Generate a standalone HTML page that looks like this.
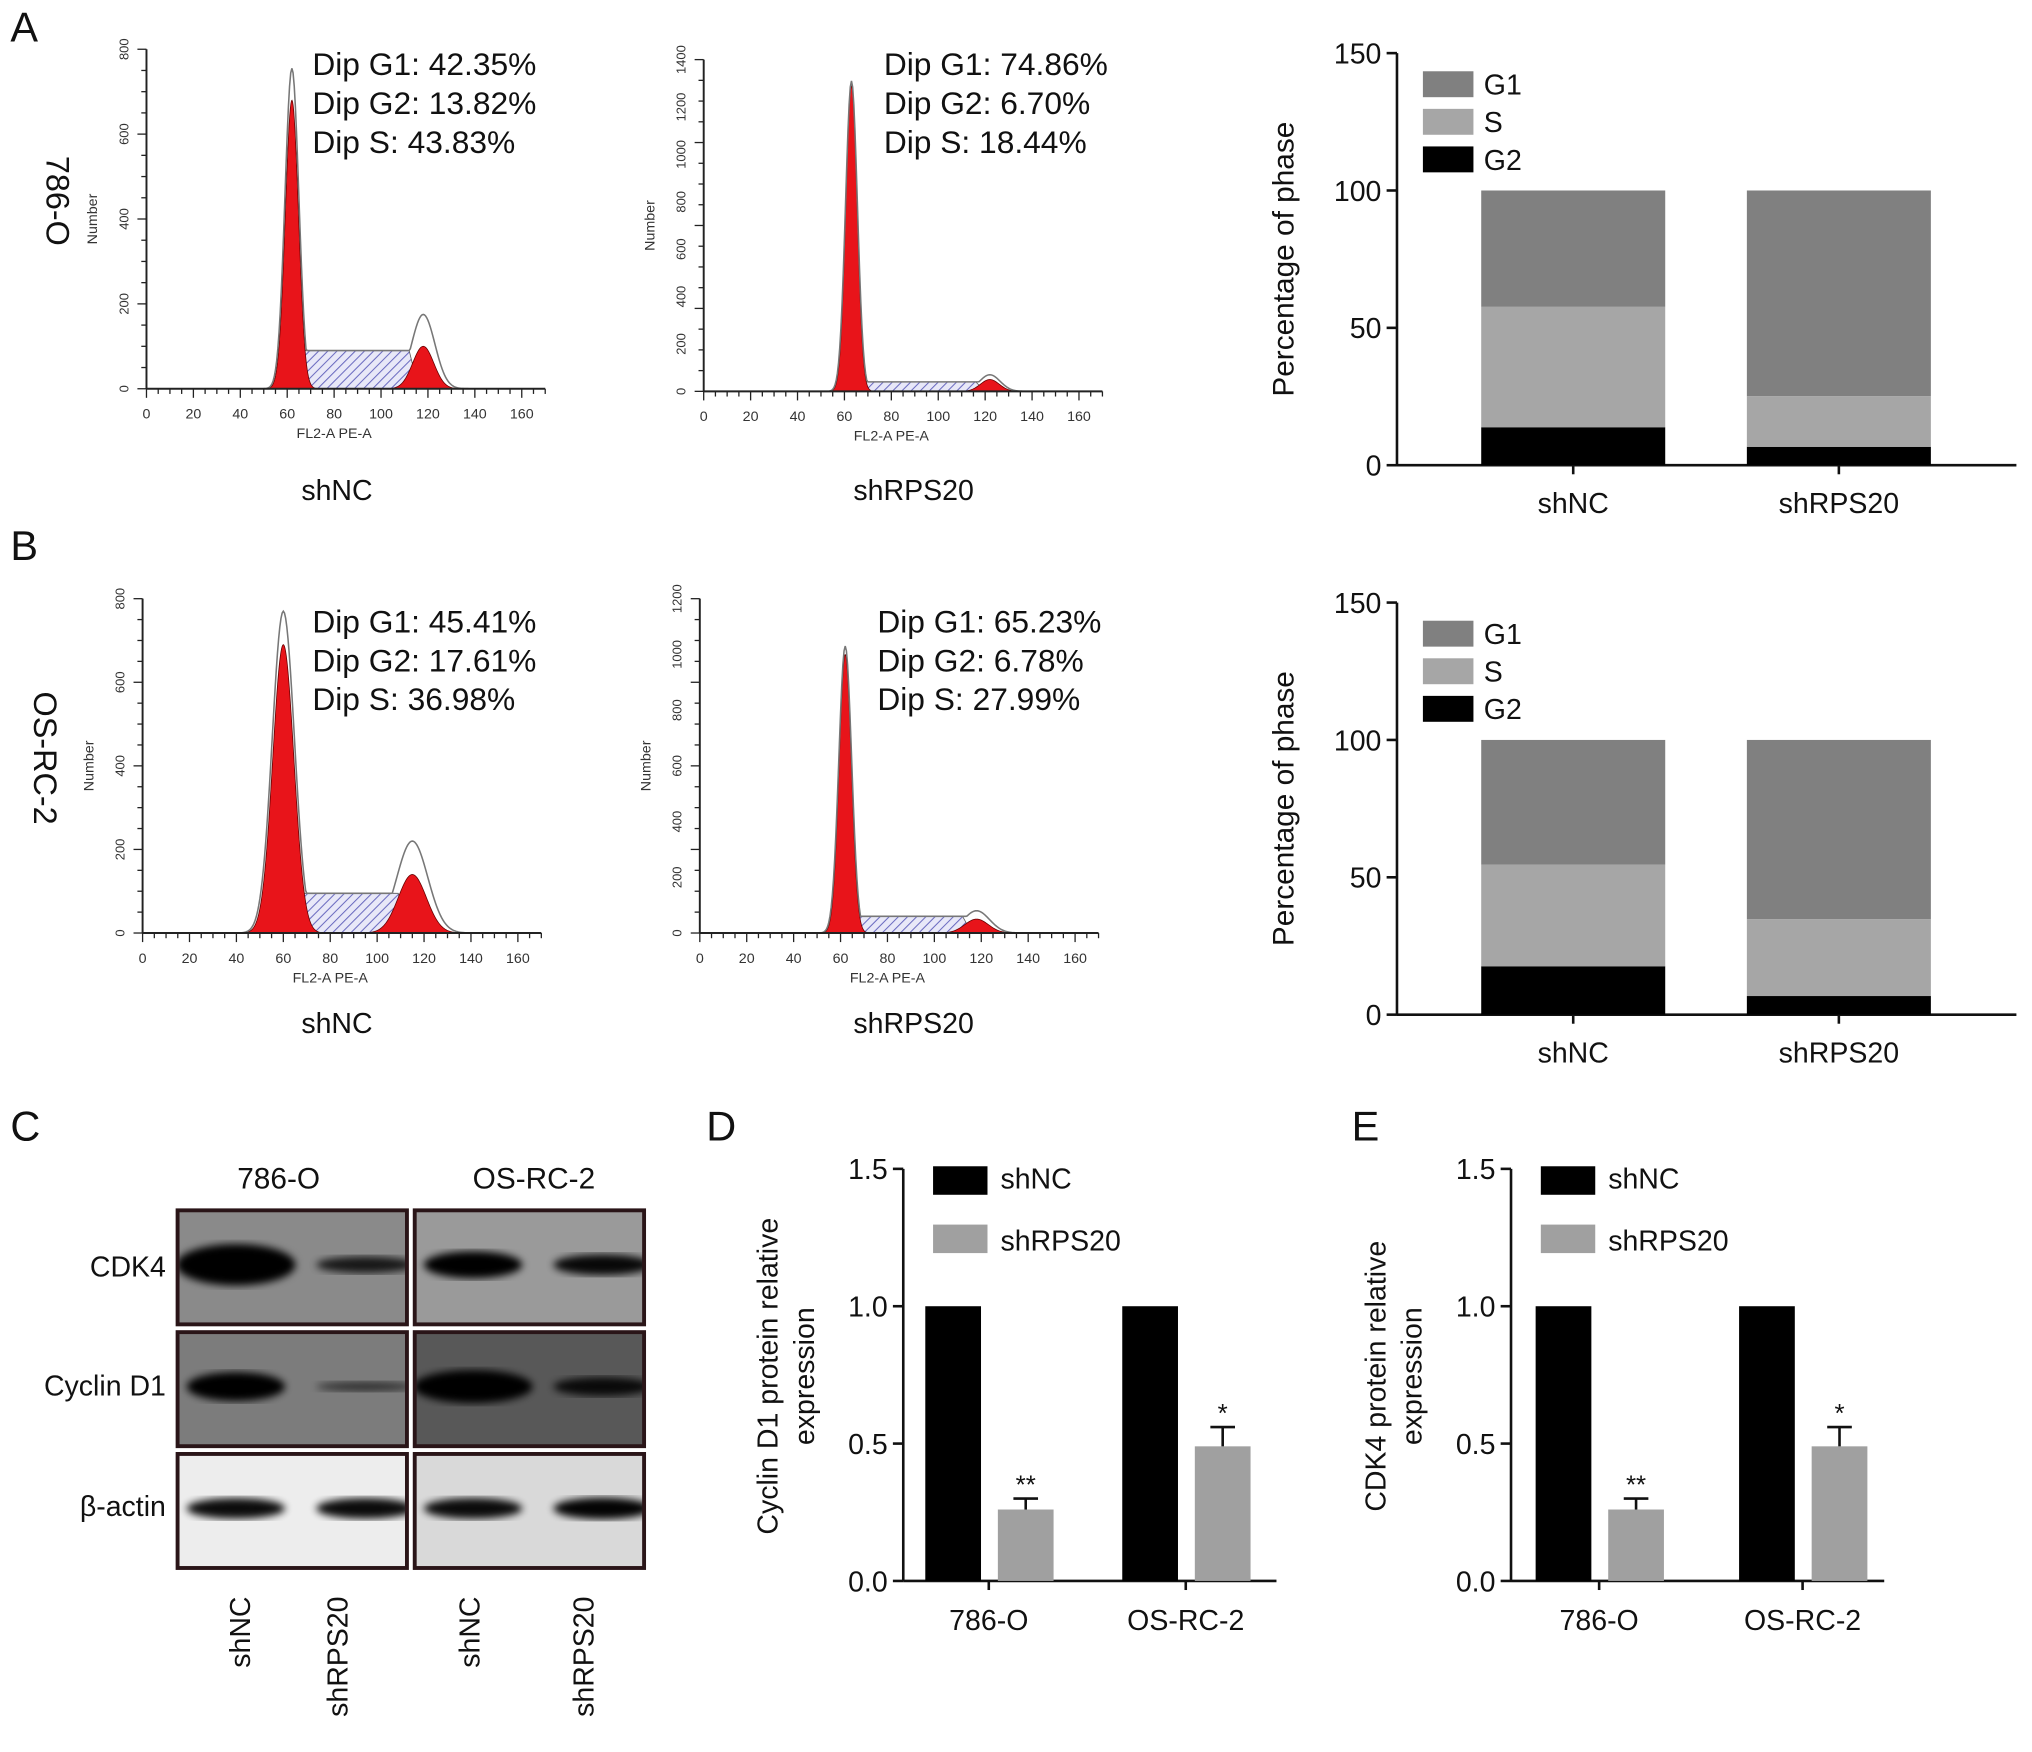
<!DOCTYPE html>
<html><head><meta charset="utf-8">
<style>html,body{margin:0;padding:0;background:#fff}svg{display:block}text{font-family:"Liberation Sans",sans-serif}</style>
</head><body>
<svg id="fig" xmlns="http://www.w3.org/2000/svg" width="2032" height="1752" viewBox="0 0 1568 1352">
<defs>
<pattern id="hatch" patternUnits="userSpaceOnUse" width="5" height="5" patternTransform="rotate(45)">
<rect width="5" height="5" fill="#e8e8f8"/><line x1="0" y1="0" x2="0" y2="5" stroke="#6b6bc0" stroke-width="1.6"/></pattern>
<filter id="blur"><feGaussianBlur stdDeviation="3"/></filter>
</defs>
<g id="root"></g>
</svg>
<script>
// ---------- DATA ----------
const histPanels = ["A-shNC","A-shRPS20","B-shNC","B-shRPS20"];
const histYMax = [800,1400,800,1200];
const g1Center = [62,63,60,62];
const g1Height = [680,1290,690,1000];
const g1Sigma = [2.8,2.4,4.5,2.6];
const g2Center = [118,122,115,118];
const g2Height = [100,50,140,50];
const g2Sigma = [4.5,4,6,5];
const sLevel = [90,40,95,60];
const outlineExtra = [75,20,80,30];
const dipG1 = ["42.35%","74.86%","45.41%","65.23%"];
const dipG2 = ["13.82%","6.70%","17.61%","6.78%"];
const dipS = ["43.83%","18.44%","36.98%","27.99%"];
const stackCats = ["shNC","shRPS20"];
const stackG2A = [13.82,6.70], stackSA=[43.83,18.44], stackG1A=[42.35,74.86];
const stackG2B = [17.61,6.78], stackSB=[36.98,27.99], stackG1B=[45.41,65.23];
const stackTicks = [0,50,100,150];
const barGroups = ["786-O","OS-RC-2"];
const cycNC = [1.0,1.0], cycSh=[0.26,0.49], cycErr=[0.04,0.07], cycStar=["**","*"];
const cdkNC = [1.0,1.0], cdkSh=[0.26,0.49], cdkErr=[0.04,0.07], cdkStar=["**","*"];
const barTicks = [0,0.5,1.0,1.5];
// ---------- HELPERS ----------
const NS="http://www.w3.org/2000/svg";const root=document.getElementById('root');
function el(t,a,p){const e=document.createElementNS(NS,t);for(const k in a)e.setAttribute(k,a[k]);(p||root).appendChild(e);return e;}
function txt(s,x,y,sz,a,p){const e=el('text',Object.assign({x:x,y:y,'font-size':sz,fill:'#111'},a||{}),p);e.textContent=s;return e;}
function gauss(x,c,h,s){return h*Math.exp(-0.5*((x-c)/s)**2);}
// ---------- HISTOGRAMS ----------
const hx=[113,543,110,540], hy0=[300,302,720,720], hyT=[38,46,462,462];
histPanels.forEach((nm,i)=>{
 const g=el('g',{});
 
 
 const X=v=>hx[i]+v*1.81, Y=v=>hy0[i]-(v/histYMax[i])*(hy0[i]-hyT[i]);
 let sp='M'+X(g1Center[i]+3)+','+Y(0);
 for(let v=g1Center[i]+3;v<=g2Center[i]-3;v+=1){let s=sLevel[i]*Math.min(1,(v-g1Center[i]-2)/3)*Math.min(1,(g2Center[i]-2-v)/4);sp+=' L'+X(v)+','+Y(Math.max(0,s));}
 sp+=' L'+X(g2Center[i]-3)+','+Y(0)+'Z';
 el('path',{d:sp,fill:'url(#hatch)',stroke:'#555','stroke-width':0.6},g);
 [[g1Center,g1Height,g1Sigma],[g2Center,g2Height,g2Sigma]].forEach(([c,h,s])=>{
  let d='M'+X(c[i]-4*s[i])+','+Y(0);
  for(let v=c[i]-4*s[i];v<=c[i]+4*s[i];v+=0.25)d+=' L'+X(v)+','+Y(gauss(v,c[i],h[i],s[i]));
  d+='Z';el('path',{d:d,fill:'#e8141a',stroke:'#600','stroke-width':0.6},g);
 });
 let od='';
 for(let v=40;v<=140;v+=0.5){let y=gauss(v,g1Center[i],g1Height[i]+outlineExtra[i],g1Sigma[i]*1.05)+gauss(v,g2Center[i],g2Height[i]+outlineExtra[i],g2Sigma[i]*1.1);
  if(v>g1Center[i]+2&&v<g2Center[i]-2)y=Math.max(y,sLevel[i]);od+=(od?' L':'M')+X(v)+','+Y(y);}
 el('path',{d:od,fill:'none',stroke:'#777','stroke-width':1.2},g);
 el('line',{x1:hx[i],y1:hy0[i],x2:X(170),y2:hy0[i],stroke:'#222','stroke-width':1.5},g);
 el('line',{x1:hx[i],y1:hy0[i],x2:hx[i],y2:hyT[i],stroke:'#222','stroke-width':1.5},g);
 for(let v=0;v<=170;v+=5){el('line',{x1:X(v),y1:hy0[i],x2:X(v),y2:hy0[i]+(v%20==0?7:4),stroke:'#222'},g);}
 for(let v=0;v<=160;v+=20)txt(String(v),X(v),hy0[i]+23,11,{'text-anchor':'middle',fill:'#333'},g);
 const st=histYMax[i]/16;
 for(let k=0;k<=16;k++){el('line',{x1:hx[i]-(k%4==0?7:4),y1:Y(k*st),x2:hx[i],y2:Y(k*st),stroke:'#222'},g);}
 for(let v=0;v<=histYMax[i];v+=200){txt(String(v),hx[i]-14,Y(v),10,{'text-anchor':'middle',fill:'#333',transform:`rotate(-90 ${hx[i]-14} ${Y(v)})`},g);}
 txt('FL2-A PE-A',X(80),hy0[i]+38,11,{'text-anchor':'middle',fill:'#333'},g);
 const ty=(hy0[i]+hyT[i])/2;
 txt('Number',hx[i]-38,ty,11,{'text-anchor':'middle',fill:'#333',transform:`rotate(-90 ${hx[i]-38} ${ty})`},g);
 const tx=[241,682,241,677][i], t0=[58,58,488,488][i];
 txt('Dip G1: '+dipG1[i],tx,t0,24.5,{},g);txt('Dip G2: '+dipG2[i],tx,t0+30,24.5,{},g);txt('Dip S: '+dipS[i],tx,t0+60,24.5,{},g);
});
txt('shNC',260,386,22,{'text-anchor':'middle'});txt('shRPS20',705,386,22,{'text-anchor':'middle'});
txt('shNC',260,797,22,{'text-anchor':'middle'});txt('shRPS20',705,797,22,{'text-anchor':'middle'});
txt('786-O',36,155,25,{'text-anchor':'middle',transform:'rotate(90 36 155)'});
txt('OS-RC-2',26,585,25,{'text-anchor':'middle',transform:'rotate(90 26 585)'});
txt('A',8,32,32);txt('B',8,432,32);txt('C',8,880,32);txt('D',545,880,32);txt('E',1043,880,32);
// ---------- STACKED ----------
function stacked(y0,yT,G2,S,G1,nm){
 const g=el('g',{});
 
 
 const ax=1078,Y=v=>y0-v/150*(y0-yT);const bx=[1143,1348];
 el('line',{x1:ax,y1:y0,x2:1556,y2:y0,stroke:'#111','stroke-width':2},g);
 el('line',{x1:ax,y1:y0,x2:ax,y2:yT,stroke:'#111','stroke-width':2},g);
 stackTicks.forEach(t=>{el('line',{x1:ax-8,y1:Y(t),x2:ax,y2:Y(t),stroke:'#111','stroke-width':2},g);txt(String(t),ax-12,Y(t)+8,22,{'text-anchor':'end'},g);});
 stackCats.forEach((c,j)=>{
  let b=0;[[G2,'#000'],[S,'#a6a6a6'],[G1,'#808080']].forEach(([arr,col])=>{
   const r=el('rect',{x:bx[j],y:Y(b+arr[j]),width:142,height:Y(b)-Y(b+arr[j]),fill:col},g);
   
   
   b+=arr[j];});
  el('line',{x1:bx[j]+71,y1:y0,x2:bx[j]+71,y2:y0+7,stroke:'#111','stroke-width':2},g);
  txt(c,bx[j]+71,y0+37,22,{'text-anchor':'middle'},g);
 });
 const my=(y0+yT)/2;
 txt('Percentage of phase',998,my,23,{'text-anchor':'middle',transform:`rotate(-90 998 ${my})`},g);
 [['G1','#808080'],['S','#a6a6a6'],['G2','#000']].forEach(([l,c],k)=>{
  el('rect',{x:1098,y:yT+14+k*29,width:39,height:20,fill:c},g);txt(l,1145,yT+32+k*29,22,{},g);});
}
stacked(359,41,stackG2A,stackSA,stackG1A,'stacked-bar-chart-a');
stacked(783,465,stackG2B,stackSB,stackG1B,'stacked-bar-chart-b');
// ---------- WESTERN BLOT ----------
const wb=el('g',{});


const defs=document.querySelector('defs');
const rowsY=[934,1028,1122], bgs=[['#8a8a8a','#9a9a9a'],['#7c7c7c','#585858'],['#ededed','#d9d9d9']];
const bandW=[[[2.0,0.8],[1.3,1.0]],[[1.4,0.45],[1.6,0.9]],[[1.0,1.0],[1.0,1.05]]];
let cid=0;
rowsY.forEach((y,r)=>{[137,320].forEach((x,c)=>{
 const cp=el('clipPath',{id:'cp'+cid},defs);el('rect',{x:x,y:y,width:177,height:88},cp);
 const bg=el('g',{'clip-path':'url(#cp'+cid+')'},wb);cid++;
 el('rect',{x:x,y:y,width:177,height:88,fill:bgs[r][c]},bg);
 bandW[r][c].forEach((t,k)=>{const cx=x+45+k*90+(k==1?10:0);
  el('ellipse',{cx:cx,cy:y+42,rx:38+(t>1.5?8:0),ry:8*t,fill:'#050505',opacity:Math.min(1,0.35+t*0.6),filter:'url(#blur)'},bg);});
 el('rect',{x:x,y:y,width:177,height:88,fill:'none',stroke:'#2a1518','stroke-width':3},wb);
});});
txt('786-O',215,917,23,{'text-anchor':'middle'},wb);txt('OS-RC-2',412,917,23,{'text-anchor':'middle'},wb);
txt('CDK4',128,985,22,{'text-anchor':'end'},wb);txt('Cyclin D1',128,1077,22,{'text-anchor':'end'},wb);txt('β-actin',128,1170,22,{'text-anchor':'end'},wb);
[['shNC',185],['shRPS20',260],['shNC',362],['shRPS20',450]].forEach(([l,x])=>txt(l,x+8,1232,22,{'text-anchor':'end',transform:`rotate(-90 ${x+8} 1232)`},wb));
// ---------- BAR CHARTS ----------
function bars(ax,NC,SH,ER,ST,ylab,nm,bx){
 const g=el('g',{});
 
 
 const y0=1220,yT=902,Y=v=>y0-v/1.5*(y0-yT);
 el('line',{x1:ax,y1:y0,x2:ax+288,y2:y0,stroke:'#111','stroke-width':2},g);
 el('line',{x1:ax,y1:y0,x2:ax,y2:yT,stroke:'#111','stroke-width':2},g);
 barTicks.forEach(t=>{el('line',{x1:ax-8,y1:Y(t),x2:ax,y2:Y(t),stroke:'#111','stroke-width':2},g);txt(t.toFixed(1),ax-12,Y(t)+8,22,{'text-anchor':'end'},g);});
 barGroups.forEach((c,j)=>{
  const x1=bx[j];
  const r1=el('rect',{x:x1,y:Y(NC[j]),width:43,height:Y(0)-Y(NC[j]),fill:'#000'},g);
  
  
  const x2=x1+56;
  const r2=el('rect',{x:x2,y:Y(SH[j]),width:43,height:Y(0)-Y(SH[j]),fill:'#a0a0a0'},g);
  
  
  el('line',{x1:x2+21.5,y1:Y(SH[j]),x2:x2+21.5,y2:Y(SH[j]+ER[j]),stroke:'#111','stroke-width':2},g);
  el('line',{x1:x2+12,y1:Y(SH[j]+ER[j]),x2:x2+31,y2:Y(SH[j]+ER[j]),stroke:'#111','stroke-width':2},g);
  txt(ST[j],x2+21.5,Y(SH[j]+ER[j])-4,20,{'text-anchor':'middle'},g);
  el('line',{x1:x1+49,y1:y0,x2:x1+49,y2:y0+7,stroke:'#111','stroke-width':2},g);
  txt(c,x1+49,y0+38,22,{'text-anchor':'middle'},g);
 });
 el('rect',{x:ax+23,y:900,width:42,height:22,fill:'#000'},g);txt('shNC',ax+75,917,22,{},g);
 el('rect',{x:ax+23,y:945,width:42,height:22,fill:'#a0a0a0'},g);txt('shRPS20',ax+75,965,22,{},g);
 ylab.forEach((l,k)=>{const xx=ax-97+k*28,my=1062;txt(l,xx,my,22,{'text-anchor':'middle',transform:`rotate(-90 ${xx} ${my})`},g);});
}
bars(697,cycNC,cycSh,cycErr,cycStar,['Cyclin D1 protein relative','expression'],'bar-chart-cyclin-d1',[714,866]);
bars(1166,cdkNC,cdkSh,cdkErr,cdkStar,['CDK4 protein relative','expression'],'bar-chart-cdk4',[1185,1342]);
</script>
</body></html>
